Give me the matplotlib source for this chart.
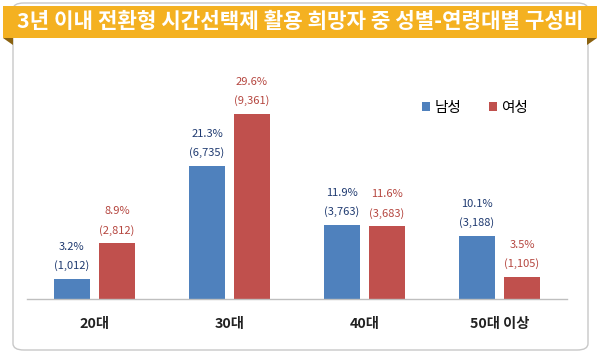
import matplotlib
matplotlib.use("Agg")
import matplotlib.pyplot as plt
from matplotlib.patches import FancyBboxPatch, Rectangle, Polygon
import numpy as np

plt.rcParams['font.family'] = ['Noto Sans CJK KR', 'DejaVu Sans']

categories = ['20대', '30대', '40대', '50대 이상']
male_pct = [3.2, 21.3, 11.9, 10.1]
female_pct = [8.9, 29.6, 11.6, 3.5]
male_cnt = ['1,012', '6,735', '3,763', '3,188']
female_cnt = ['2,812', '9,361', '3,683', '1,105']
title = '3년 이내 전환형 시간선택제 활용 희망자 중 성별-연령대별 구성비'

W, H = 600, 356
fig = plt.figure(figsize=(W / 100, H / 100), dpi=100)
fig.patch.set_facecolor('white')

def fx(px):
    return px / W

def fy(py):
    return 1 - py / H

# outer rounded frame
frame = FancyBboxPatch((fx(13), fy(350)), fx(588) - fx(13), fy(3) - fy(350),
                       boxstyle="round,pad=0,rounding_size=0.018",
                       transform=fig.transFigure, facecolor='white',
                       edgecolor='#C8C8C8', linewidth=1.0, zorder=-2)
fig.patches.append(frame)

# banner fold triangles
for pts in ([(3, 38), (13, 38), (13, 45)], [(597, 38), (587, 38), (587, 45)]):
    fig.patches.append(Polygon([(fx(a), fy(b)) for a, b in pts], closed=True,
                               transform=fig.transFigure, facecolor='#8A6210',
                               edgecolor='none', zorder=1))
# banner
fig.patches.append(Rectangle((fx(3), fy(38)), fx(597) - fx(3), fy(6) - fy(38),
                             transform=fig.transFigure, facecolor='#F4B121',
                             edgecolor='none', zorder=2))
fig.text(0.5, fy(22), title, ha='center', va='center', color='white',
         fontsize=15.3, fontweight='bold', zorder=3)

# axes
ax = fig.add_axes([fx(27), fy(299), fx(567) - fx(27), fy(80) - fy(299)])
ax.set_zorder(5)
ax.set_facecolor('none')
x = np.arange(len(categories))
w = 0.26
off = 0.167
bm = ax.bar(x - off, male_pct, w, color='#4F81BD', label='남성', zorder=2)
bf = ax.bar(x + off, female_pct, w, color='#C0504D', label='여성', zorder=2)
ax.set_xlim(-0.5, 3.5)
ax.set_ylim(0, 35)
for s in ['top', 'right', 'left']:
    ax.spines[s].set_visible(False)
ax.spines['bottom'].set_color('#BFBFBF')
ax.spines['bottom'].set_linewidth(1.0)
ax.set_yticks([])
ax.set_xticks(x)
ax.set_xticklabels(categories, fontsize=10.3, fontweight='bold', color='#222222')
ax.tick_params(axis='x', length=0, pad=13)

for i in range(len(categories)):
    for xv, pct, cnt, col in ((x[i] - off, male_pct[i], male_cnt[i], '#1F3A70'),
                              (x[i] + off, female_pct[i], female_cnt[i], '#B5463F')):
        ax.annotate(f'{pct}%', (xv, pct), xytext=(0, 23), textcoords='offset points',
                    ha='center', va='center', fontsize=8, color=col, fontweight='medium')
        ax.annotate(f'({cnt})', (xv, pct), xytext=(0, 9.5), textcoords='offset points',
                    ha='center', va='center', fontsize=8, color=col, fontweight='medium')

leg = ax.legend(loc='center', bbox_to_anchor=((fx(475) - fx(27)) / (fx(567) - fx(27)),
                                               (fy(108) - fy(299)) / (fy(80) - fy(299))),
                ncol=2, frameon=False, fontsize=10.5, handlelength=0.55, handleheight=0.55,
                handletextpad=0.3, columnspacing=1.9)

fig.savefig('out.png', dpi=100, facecolor='white')
